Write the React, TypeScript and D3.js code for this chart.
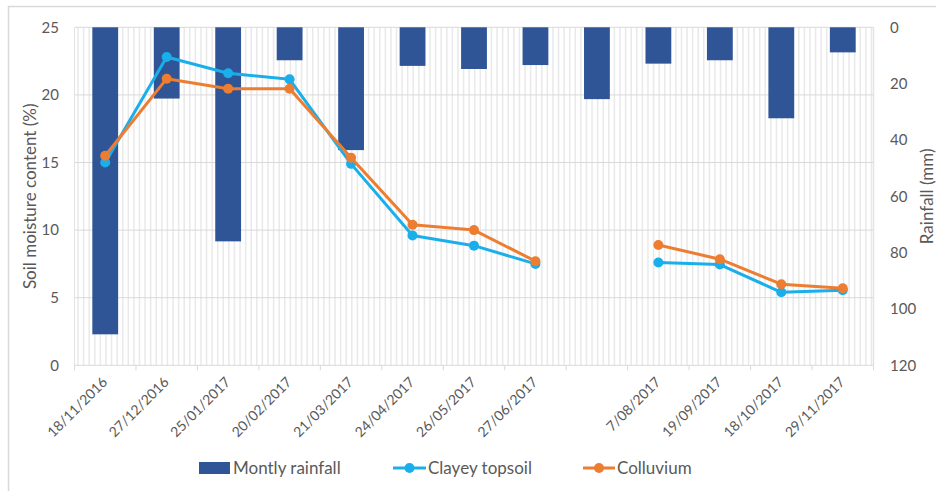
import React from "react";
import * as d3 from "d3";

const categories = ["18/11/2016","27/12/2016","25/01/2017","20/02/2017","21/03/2017","24/04/2017","26/05/2017","27/06/2017","","7/08/2017","19/09/2017","18/10/2017","29/11/2017"];
const rainfall = [109, 25.3, 76, 11.7, 43.6, 13.7, 14.8, 13.4, 25.5, 12.9, 11.7, 32.3, 8.9];
const clayey: (number | null)[] = [15.0, 22.8, 21.6, 21.15, 14.9, 9.6, 8.85, 7.5, null, 7.6, 7.45, 5.4, 5.55];
const colluvium: (number | null)[] = [15.5, 21.2, 20.45, 20.45, 15.35, 10.4, 10.0, 7.7, null, 8.9, 7.85, 6.0, 5.7];
const leftTicks = [0, 5, 10, 15, 20, 25];
const rightTicks = [0, 20, 40, 60, 80, 100, 120];

const W = 936, H = 491;
const L = 74.5, R = 873.5, T = 27.3, B = 365.3;
const FONT = "Lato, 'Open Sans', sans-serif";
const GRAY = "#595959";
const BAR = "#2F5597";
const BLUE = "#1AAFEA";
const ORANGE = "#ED7D31";

export default function App() {
  const x = d3.scaleBand<string>().domain(categories.map((_, i) => String(i))).range([L, R]).padding(0);
  const step = x.step();
  const cx = (i: number) => (x(String(i)) as number) + step / 2;
  const yL = d3.scaleLinear().domain([0, 25]).range([B, T]);
  const yR = d3.scaleLinear().domain([0, 120]).range([T, B]);
  const barW = step * 0.42;

  const minor: number[] = [];
  const nMinor = 11;
  categories.forEach((_, i) => {
    for (let j = 0; j < nMinor; j++) {
      minor.push((x(String(i)) as number) + (j + 0.63) * (step / nMinor));
    }
  });

  const mkLine = (vals: (number | null)[]) =>
    d3.line<number | null>()
      .defined((d) => d !== null)
      .x((_, i) => cx(i))
      .y((d) => yL(d as number))(vals) as string;

  const boundaries = d3.range(categories.length + 1).map((i) => L + i * step);

  return (
    <svg width={W} height={H} style={{ position: "absolute", left: 0, top: 0, background: "#fff" }} fontFamily={FONT}>
      <rect x={8.5} y={6.5} width={W + 10} height={H + 10} fill="#fff" stroke="#d9d9d9" strokeWidth={1.5} />
      {minor.map((m, i) => (
        <line key={"m" + i} x1={m} x2={m} y1={T} y2={B} stroke="#e9e9e9" strokeWidth={1.5} />
      ))}
      <line x1={L} x2={L} y1={T} y2={B} stroke="#e3e3e3" strokeWidth={1} />
      <line x1={R} x2={R} y1={T} y2={B} stroke="#e3e3e3" strokeWidth={1.5} />
      {leftTicks.map((t) => (
        <line key={"g" + t} x1={L} x2={R} y1={yL(t)} y2={yL(t)} stroke="#d9d9d9" strokeWidth={1} />
      ))}
      {boundaries.map((b, i) => (
        <line key={"t" + i} x1={b} x2={b} y1={B} y2={B + 5} stroke="#d9d9d9" strokeWidth={1} />
      ))}
      {rainfall.map((v, i) => (
        <rect key={"b" + i} x={cx(i) - barW / 2} y={yR(0)} width={barW} height={yR(v) - yR(0)} fill={BAR} />
      ))}
      <path d={mkLine(clayey)} fill="none" stroke={BLUE} strokeWidth={3} strokeLinejoin="round" />
      {clayey.map((v, i) => v === null ? null : (
        <circle key={"c" + i} cx={cx(i)} cy={yL(v)} r={5} fill={BLUE} />
      ))}
      <path d={mkLine(colluvium)} fill="none" stroke={ORANGE} strokeWidth={3} strokeLinejoin="round" />
      {colluvium.map((v, i) => v === null ? null : (
        <circle key={"o" + i} cx={cx(i)} cy={yL(v)} r={5} fill={ORANGE} />
      ))}
      {leftTicks.map((t) => (
        <text key={"l" + t} x={59} y={yL(t)} dy="0.35em" textAnchor="end" fontSize={15} fill={GRAY}>{t}</text>
      ))}
      {rightTicks.map((t) => (
        <text key={"r" + t} x={890} y={yR(t)} dy="0.35em" textAnchor="start" fontSize={15} fill={GRAY}>{t}</text>
      ))}
      {categories.map((c, i) => (
        <text key={"x" + i} transform={`translate(${cx(i) + 3},${383}) rotate(-45)`} textAnchor="end" fontSize={14} fill={GRAY}>{c}</text>
      ))}
      <text transform={`translate(30,${(T + B) / 2}) rotate(-90)`} textAnchor="middle" dy="0.35em" fontSize={17} fill={GRAY}>Soil moisture content (%)</text>
      <text transform={`translate(927,${(T + B) / 2}) rotate(-90)`} textAnchor="middle" dy="0.35em" fontSize={17} fill={GRAY}>Rainfall (mm)</text>
      <rect x={199} y={462} width={31} height={12} fill={BAR} />
      <text x={233} y={468} dy="0.35em" fontSize={17} fill={GRAY}>Montly rainfall</text>
      <line x1={393} x2={426} y1={468} y2={468} stroke={BLUE} strokeWidth={3} />
      <circle cx={409.5} cy={468} r={5} fill={BLUE} />
      <text x={428} y={468} dy="0.35em" fontSize={17} fill={GRAY}>Clayey topsoil</text>
      <line x1={583} x2={615} y1={468} y2={468} stroke={ORANGE} strokeWidth={3} />
      <circle cx={599} cy={468} r={5} fill={ORANGE} />
      <text x={617} y={468} dy="0.35em" fontSize={17} fill={GRAY}>Colluvium</text>
    </svg>
  );
}
